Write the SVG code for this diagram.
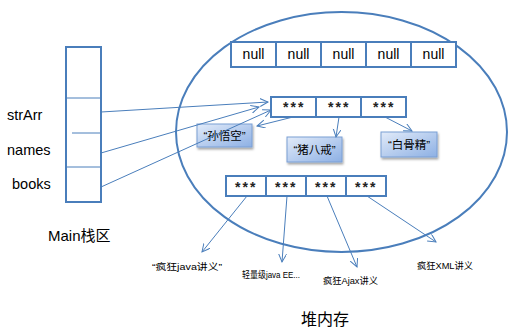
<svg xmlns="http://www.w3.org/2000/svg" width="519" height="336" viewBox="0 0 519 336">
<defs>
<marker id="arr" markerWidth="10" markerHeight="10" refX="8" refY="4" orient="auto" markerUnits="userSpaceOnUse">
<path d="M0,0 L8,4 L0,8" fill="none" stroke="#4a7ebb" stroke-width="1"/>
</marker>
<linearGradient id="g" x1="0" y1="0" x2="1" y2="1">
<stop offset="0" stop-color="#e2ebf9"/>
<stop offset="1" stop-color="#8db0e4"/>
</linearGradient>
<filter id="sh" x="-20%" y="-20%" width="140%" height="160%">
<feDropShadow dx="1" dy="2" stdDeviation="1.2" flood-color="#000" flood-opacity="0.35"/>
</filter>
</defs>
<style>
.cell{fill:#fff;stroke:#4a7ebb;stroke-width:2}
.thin{stroke:#4a7ebb;stroke-width:1;fill:none}
.conn{stroke:#4a7ebb;stroke-width:1;fill:none;marker-end:url(#arr)}
.lbl{font-family:"Liberation Sans","Noto Sans CJK SC",sans-serif;fill:#000}
.box{fill:url(#g);stroke:#7b9fd4;stroke-width:1;filter:url(#sh)}
.ast{font-family:"Liberation Sans",sans-serif;font-size:14px;font-weight:bold;fill:#222;letter-spacing:2px}
.nul{font-family:"Liberation Sans",sans-serif;font-size:14px;fill:#000}
.sm{font-family:"Liberation Sans","Noto Sans CJK SC",sans-serif;font-size:9.5px;fill:#000}
.bx{font-family:"Liberation Sans","Noto Sans CJK SC",sans-serif;font-size:11.5px;fill:#000}
</style>
<rect width="519" height="336" fill="#fff"/>

<g id="heap">
<ellipse cx="341.5" cy="132" rx="165.5" ry="120" fill="none" stroke="#4a7ebb" stroke-width="2"/>
<text class="lbl" x="325" y="325" font-size="16" text-anchor="middle">堆内存</text>
</g>

<g id="stack">
<rect x="66" y="47" width="35" height="155" fill="#fff" stroke="#4a7ebb" stroke-width="2"/>
<line class="thin" x1="66" y1="98" x2="101" y2="98"/>
<line class="thin" x1="72" y1="133" x2="101" y2="133"/>
<line class="thin" x1="66" y1="167" x2="101" y2="167"/>
<text class="lbl" x="7" y="120" font-size="14.5">strArr</text>
<text class="lbl" x="7" y="155" font-size="14.5">names</text>
<text class="lbl" x="12" y="189" font-size="14.5">books</text>
<text class="lbl" x="48" y="241" font-size="15">Main栈区</text>
</g>

<g id="nullArray">
<rect class="cell" x="231" y="42" width="45" height="25"/>
<rect class="cell" x="276" y="42" width="45" height="25"/>
<rect class="cell" x="321" y="42" width="45" height="25"/>
<rect class="cell" x="366" y="42" width="45" height="25"/>
<rect class="cell" x="411" y="42" width="45" height="25"/>
<text class="nul" x="253.5" y="59" text-anchor="middle">null</text>
<text class="nul" x="298.5" y="59" text-anchor="middle">null</text>
<text class="nul" x="343.5" y="59" text-anchor="middle">null</text>
<text class="nul" x="388.5" y="59" text-anchor="middle">null</text>
<text class="nul" x="433.5" y="59" text-anchor="middle">null</text>
</g>

<g id="namesArray">
<rect class="cell" x="271" y="97" width="45" height="20"/>
<rect class="cell" x="316" y="97" width="45" height="20"/>
<rect class="cell" x="361" y="97" width="45" height="20"/>
<text class="ast" x="283" y="112">***</text>
<text class="ast" x="328" y="112">***</text>
<text class="ast" x="373" y="112">***</text>
</g>

<g id="booksArray">
<rect class="cell" x="226" y="176" width="40" height="20"/>
<rect class="cell" x="266" y="176" width="40" height="20"/>
<rect class="cell" x="306" y="176" width="40" height="20"/>
<rect class="cell" x="346" y="176" width="40" height="20"/>
<text class="ast" x="235" y="192">***</text>
<text class="ast" x="275" y="192">***</text>
<text class="ast" x="315" y="192">***</text>
<text class="ast" x="355" y="192">***</text>
</g>

<g id="sunwukong">
<rect class="box" x="197" y="124" width="55" height="23"/>
<text class="bx" x="224.5" y="140" text-anchor="middle">“孙悟空”</text>
</g>
<g id="zhubajie">
<rect class="box" x="287" y="137" width="55" height="25"/>
<text class="bx" x="314.5" y="154" text-anchor="middle">“猪八戒”</text>
</g>
<g id="baigujing">
<rect class="box" x="381" y="132" width="56" height="25"/>
<text class="bx" x="409" y="149" text-anchor="middle">“白骨精”</text>
</g>

<g id="bookLabels">
<text class="sm" x="152" y="270" textLength="70" lengthAdjust="spacingAndGlyphs">“疯狂java讲义”</text>
<text class="sm" x="242" y="278" textLength="58" lengthAdjust="spacingAndGlyphs">轻量级java EE...</text>
<text class="sm" x="323" y="284" textLength="55" lengthAdjust="spacingAndGlyphs">疯狂Ajax讲义</text>
<text class="sm" x="417" y="269" textLength="56" lengthAdjust="spacingAndGlyphs">疯狂XML讲义</text>
</g>

<g id="connectors">
<line class="conn" x1="101" y1="112" x2="268" y2="102"/>
<line class="conn" x1="101" y1="153" x2="259" y2="107"/>
<line class="conn" x1="101" y1="187" x2="271" y2="110"/>
<line class="conn" x1="293" y1="117" x2="257" y2="126"/>
<line class="conn" x1="339" y1="117" x2="336" y2="137"/>
<line class="conn" x1="385" y1="117" x2="412" y2="131"/>
<line class="conn" x1="247" y1="196" x2="202" y2="252"/>
<line class="conn" x1="287" y1="196" x2="282" y2="262"/>
<line class="conn" x1="327" y1="196" x2="357" y2="267"/>
<line class="conn" x1="367" y1="196" x2="436" y2="242"/>
</g>
</svg>
